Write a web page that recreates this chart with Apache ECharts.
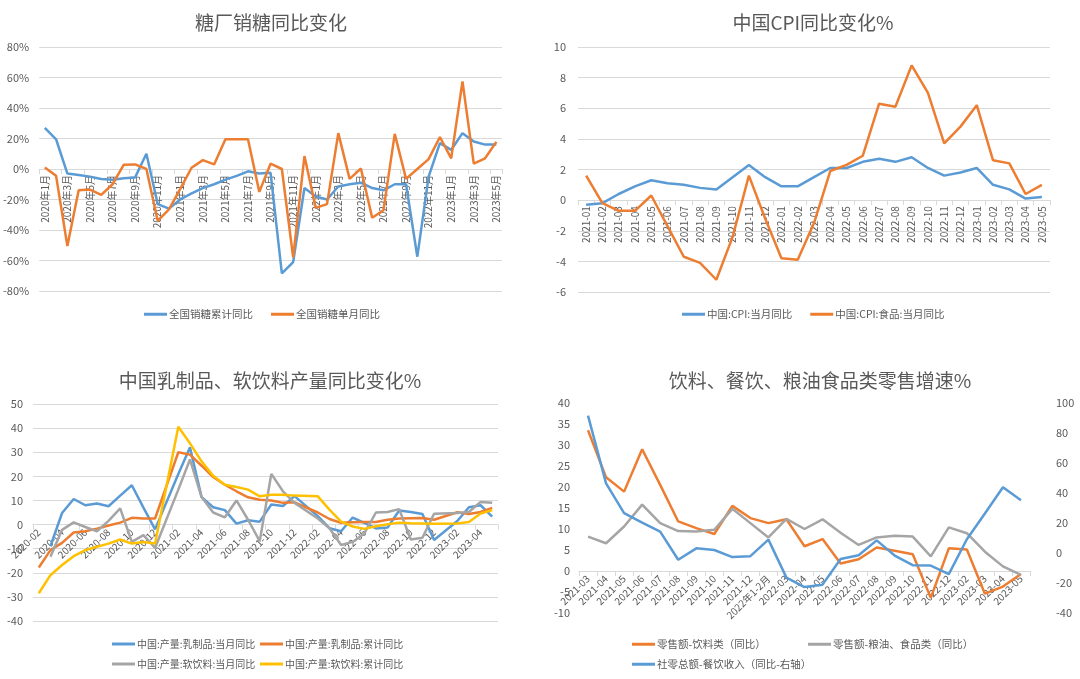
<!DOCTYPE html>
<html>
<head>
<meta charset="utf-8">
<script src="https://cdn.jsdelivr.net/npm/echarts@6/dist/echarts.min.js"></script>
<style>
  html, body { margin: 0; padding: 0; background: #fff; }
  #main { width: 1080px; height: 679px; }
</style>
</head>
<body>
<div id="main"></div>
<script>
// ---- panel 1: 糖厂销糖同比变化 (%)
const sugarMonths = [];
[2020, 2021, 2022, 2023].forEach(y => {
  const last = y === 2023 ? 5 : 12;
  for (let m = 1; m <= last; m++) sugarMonths.push(y + '年' + m + '月');
});
const sugarCum = [27, 19.5, -3, -4, -5, -6.5, -7, -6, -5.5, 10, -23, -26, -20, -16, -12.5, -10, -7, -4.5, -1.5, -3,
  -2.5, -68.5, -61, -12.5, -18, -20, -11.5, -10, -9, -12.5, -14, -10, -10, -57.5, -5, 17, 12.5, 23.5, 18, 16, 16];
const sugarMonth = [1, -4.5, -50.5, -14, -13.5, -17, -10, 2.8, 3, 0, -34, -26.5, -13, 0.8, 5.8, 3, 19.5, 19.5, 19.5, -15,
  3.5, 0, -58, 8.5, -25.5, -23, 23.5, -6.5, 0.3, -32, -27, 23, -6.5, 0, 6.5, 21, 7, 57.4, 3.5, 7, 17.8];

// ---- panel 2: 中国CPI同比变化%
const cpiMonths = ['2021-01', '2021-02', '2021-03', '2021-04', '2021-05', '2021-06', '2021-07', '2021-08', '2021-09',
  '2021-10', '2021-11', '2021-12', '2022-01', '2022-02', '2022-03', '2022-04', '2022-05', '2022-06', '2022-07',
  '2022-08', '2022-09', '2022-10', '2022-11', '2022-12', '2023-01', '2023-02', '2023-03', '2023-04', '2023-05'];
const cpiAll = [-0.3, -0.2, 0.4, 0.9, 1.3, 1.1, 1.0, 0.8, 0.7, 1.5, 2.3, 1.5, 0.9, 0.9, 1.5, 2.1, 2.1, 2.5, 2.7, 2.5,
  2.8, 2.1, 1.6, 1.8, 2.1, 1.0, 0.7, 0.1, 0.2];
const cpiFood = [1.6, -0.2, -0.7, -0.7, 0.3, -1.7, -3.7, -4.1, -5.2, -2.4, 1.6, -1.2, -3.8, -3.9, -1.5, 1.9, 2.3, 2.9,
  6.3, 6.1, 8.8, 7.0, 3.7, 4.8, 6.2, 2.6, 2.4, 0.4, 1.0];

// ---- panel 3: 中国乳制品、软饮料产量同比变化%
const prodMonths = [];
[2020, 2021, 2022, 2023].forEach(y => {
  const first = y === 2020 ? 2 : 1;
  const last = y === 2023 ? 5 : 12;
  for (let m = first; m <= last; m++) prodMonths.push(y + '-' + (m < 10 ? '0' + m : m));
});
const dairyMonth = [null, -9, 4.8, 10.6, 8, 8.7, 7.6, 12, 16.3, 7, -2, null, 21, 32, 11.4, 7.2, 6, 0.4, 1.8, 1.2,
  8.3, 7.7, 11.8, null, 3.5, -1.5, -2.8, 2.9, 0.7, -1.6, -1.2, 5.8, 5.2, 4.4, -6.4, null, 1.5, 7.2, 8, 3.3];
const dairyCum = [-17.8, -10.6, -7.6, -3.3, -2.8, -1.7, -0.4, 0.8, 2.8, 2.5, 2.5, null, 30, 29, 24.4, 19.7, 16.5,
  13.8, 11.3, 10.3, 10, 9, 9.2, null, 5, 2.3, 0.7, 1, 1.1, 1.1, 2, 2.5, 2.6, 2.7, 2, null, 5.1, 4.4, 5.2, 6.9];
const drinkMonth = [null, -13.4, -2.2, 0.9, -1, -2.8, 1.5, 6.7, -7.2, -4.4, -9.7, null, 14.5, 27, 11.4, 5, 3, 10,
  2, -6.9, 21, 13.8, 9, null, 2.5, -1.5, -8.5, -7.2, -3.7, 5, 5.2, 6.4, -6.2, -5.5, 4.5, null, 4.8, 5.2, 9.4, 9];
const drinkCum = [-28.5, -21, -16.8, -13.1, -10.6, -9.2, -7.9, -6.2, -7.9, -7.2, -7.9, null, 40.6, 33.7, 26.2, 20.2,
  16.5, 15.6, 14.5, 11.7, 12.4, 12.4, 12, null, 11.7, 6.2, 1.2, -0.8, -1.8, -0.7, 0.1, 0.8, 0.5, 0.4, 0.3, null,
  0.4, 1.1, 4.6, 6];

// ---- panel 4: 饮料、餐饮、粮油食品类零售增速%
const retailMonths = ['2021-03', '2021-04', '2021-05', '2021-06', '2021-07', '2021-08', '2021-09', '2021-10',
  '2021-11', '2021-12', '2022年1-2月', '2022-03', '2022-04', '2022-05', '2022-06', '2022-07', '2022-08', '2022-09',
  '2022-10', '2022-11', '2022-12', '2023-02', '2023-03', '2023-04', '2023-05'];
const retailDrink = [33.5, 22.3, 18.9, 29, 20.5, 11.8, 10.2, 8.8, 15.5, 12.6, 11.4, 12.3, 5.9, 7.6, 1.8, 2.8, 5.6,
  4.8, 4, -6.4, 5.4, 5.1, -5.4, -3.7, -0.7];
const retailGrain = [8.2, 6.6, 10.6, 15.8, 11.4, 9.5, 9.4, 9.8, 14.8, 11.4, 8, 12.4, 10, 12.3, 9.1, 6.2, 8, 8.4, 8.2,
  3.5, 10.4, 9, 4.6, 1.1, -0.9];
const cateringIncome = [91.6, 46.4, 26.6, 20.3, 14.3, -4.5, 3.1, 2.0, -2.7, -2.1, 8.9, -16.4, -22.7, -21.1, -4.0,
  -1.5, 8.4, -1.7, -8.1, -8.4, -14.1, 9.2, 26.3, 43.8, 35.1];

const BLUE = '#5B9BD5', ORANGE = '#ED7D31', GRAY = '#A5A5A5', YELLOW = '#FFC000';
const TXT = '#595959', GRID = '#D9D9D9';
const FONT = '"Noto Sans CJK SC", "Noto Sans", sans-serif';

const chart = echarts.init(document.getElementById('main'));

function title(text, x, y) {
  return { text: text, left: x, top: y, textAlign: 'center',
    textStyle: { fontSize: 19, fontWeight: 'normal', color: TXT, fontFamily: FONT } };
}
function legend(names, x, y, size) {
  return { data: names, left: x, top: y, padding: 0, icon: 'rect', itemWidth: 23, itemHeight: 3, itemGap: 18,
    textStyle: { fontSize: size || 10.5, color: TXT, fontFamily: FONT, padding: [0, 0, 0, -3] } };
}
// the x axis sits on the zero line: shift it up from the grid bottom by "lift" px
function xCat(data, grid, rotate, interval, lift) {
  return {
    type: 'category', gridIndex: grid, data: data, boundaryGap: true, position: 'bottom', offset: -lift,
    axisLine: { show: true, onZero: false, lineStyle: { color: GRID, width: 1 } },
    axisTick: { show: true, lineStyle: { color: GRID } },
    axisLabel: { rotate: rotate, interval: interval, fontSize: 10, color: TXT, fontFamily: FONT, margin: 6 },
    splitLine: { show: false }
  };
}
function yVal(grid, min, max, interval, fmt, split, pos, margin) {
  return {
    type: 'value', gridIndex: grid, min: min, max: max, interval: interval, position: pos || 'left',
    axisLine: { show: false }, axisTick: { show: false },
    axisLabel: { fontSize: 11, color: TXT, fontFamily: FONT, formatter: fmt || '{value}', margin: margin || 10 },
    splitLine: { show: split, lineStyle: { color: GRID, width: 1 } }
  };
}
function line(name, data, color, xi, yi) {
  return { name: name, type: 'line', data: data, xAxisIndex: xi, yAxisIndex: yi, symbol: 'none',
    connectNulls: true, lineStyle: { color: color, width: 2.5 }, itemStyle: { color: color } };
}

const grids = [
  { left: 38, top: 47, width: 464, height: 244 },
  { left: 578, top: 47, width: 472, height: 245 },
  { left: 33, top: 404, width: 465, height: 217 },
  { left: 579, top: 403, width: 451, height: 210 }
];

chart.setOption({
  backgroundColor: '#fff',
  animation: false,
  title: [
    title('糖厂销糖同比变化', 266, 8),
    title('中国CPI同比变化%', 808, 8),
    title('中国乳制品、软饮料产量同比变化%', 265, 366),
    title('饮料、餐饮、粮油食品类零售增速%', 815, 366)
  ],
  legend: [
    legend(['全国销糖累计同比', '全国销糖单月同比'], 144, 309),
    legend(['中国:CPI:当月同比', '中国:CPI:食品:当月同比'], 682, 309),
    legend(['中国:产量:乳制品:当月同比'], 112, 639, 10),
    legend(['中国:产量:乳制品:累计同比'], 260, 639, 10),
    legend(['中国:产量:软饮料:当月同比'], 112, 659, 10),
    legend(['中国:产量:软饮料:累计同比'], 260, 659, 10),
    legend(['零售额-饮料类（同比）'], 632, 639),
    legend(['零售额-粮油、食品类（同比）'], 808, 639),
    legend(['社零总额-餐饮收入（同比-右轴）'], 632, 659)
  ],
  grid: grids,
  xAxis: [
    xCat(sugarMonths, 0, 90, 1, 244 * 80 / 160),
    xCat(cpiMonths, 1, 90, 0, 245 * 6 / 16),
    xCat(prodMonths, 2, 45, 1, 217 * 40 / 90),
    xCat(retailMonths, 3, 45, 0, 210 * 10 / 50)
  ],
  yAxis: [
    yVal(0, -80, 80, 20, '{value}%', true, 'left', 10),
    yVal(1, -6, 10, 2, '{value}', true, 'left', 12),
    yVal(2, -40, 50, 10, '{value}', true, 'left', 10),
    yVal(3, -10, 40, 5, '{value}', false, 'left', 9),
    yVal(3, -40, 100, 20, '{value}', false, 'right', 26)
  ],
  series: [
    line('全国销糖累计同比', sugarCum, BLUE, 0, 0),
    line('全国销糖单月同比', sugarMonth, ORANGE, 0, 0),
    line('中国:CPI:当月同比', cpiAll, BLUE, 1, 1),
    line('中国:CPI:食品:当月同比', cpiFood, ORANGE, 1, 1),
    line('中国:产量:乳制品:当月同比', dairyMonth, BLUE, 2, 2),
    line('中国:产量:乳制品:累计同比', dairyCum, ORANGE, 2, 2),
    line('中国:产量:软饮料:当月同比', drinkMonth, GRAY, 2, 2),
    line('中国:产量:软饮料:累计同比', drinkCum, YELLOW, 2, 2),
    line('零售额-饮料类（同比）', retailDrink, ORANGE, 3, 3),
    line('零售额-粮油、食品类（同比）', retailGrain, GRAY, 3, 3),
    line('社零总额-餐饮收入（同比-右轴）', cateringIncome, BLUE, 3, 4)
  ]
});
</script>
</body>
</html>
